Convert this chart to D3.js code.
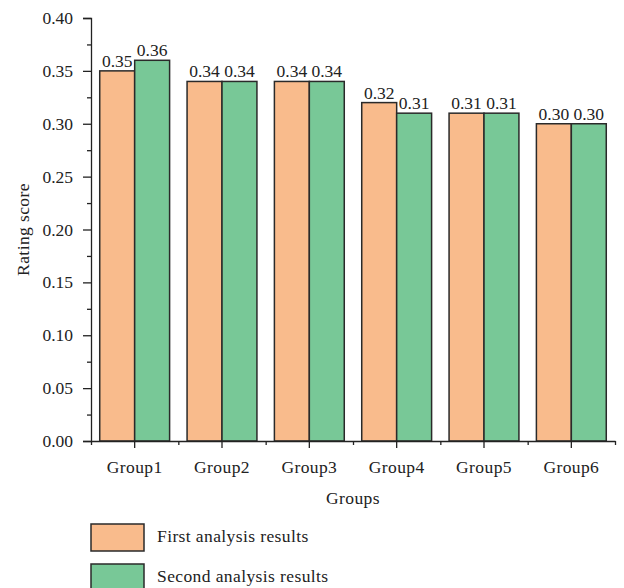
<!DOCTYPE html>
<html>
<head>
<meta charset="utf-8">
<script src="https://cdn.jsdelivr.net/npm/d3@7"></script>
<style>
  html, body { margin: 0; padding: 0; background: #fff; }
  svg text { font-family: "Liberation Serif", "DejaVu Serif", serif; fill: #222; }
</style>
</head>
<body>
<svg id="chart" width="624" height="588"></svg>
<script>
// Rating scores for each group from the two analysis rounds
const groups = ["Group1", "Group2", "Group3", "Group4", "Group5", "Group6"];
const firstResults = [0.35, 0.34, 0.34, 0.32, 0.31, 0.30];
const secondResults = [0.36, 0.34, 0.34, 0.31, 0.31, 0.30];
const seriesNames = ["First analysis results", "Second analysis results"];
const seriesColors = ["#F9BB8C", "#78C897"];
const yTicks = [0, 0.05, 0.10, 0.15, 0.20, 0.25, 0.30, 0.35, 0.40];

const svg = d3.select("#chart");
const plotLeft = 91, plotRight = 615, plotTop = 18, plotBottom = 441;
const fontSize = 17.5, wordSpacing = 0.4;

const x = d3.scaleBand().domain(groups).range([plotLeft, plotRight])
  .paddingInner(0.2).paddingOuter(0.1);
const sub = d3.scaleBand().domain([0, 1]).range([0, x.bandwidth()]);
const y = d3.scaleLinear().domain([0, 0.4]).range([plotBottom, plotTop]);

const rows = groups.map((g, i) => ({ group: g, values: [firstResults[i], secondResults[i]] }));

// bars with value labels
const gBars = svg.append("g");
rows.forEach(r => {
  r.values.forEach((v, k) => {
    gBars.append("rect")
      .attr("x", x(r.group) + sub(k))
      .attr("y", y(v))
      .attr("width", sub.bandwidth())
      .attr("height", y(0) - y(v))
      .attr("fill", seriesColors[k])
      .attr("stroke", "#2a2a2a")
      .attr("stroke-width", 1.5);
    gBars.append("text")
      .attr("x", x(r.group) + sub(k) + sub.bandwidth() / 2)
      .attr("y", y(v) - 4)
      .attr("text-anchor", "middle")
      .attr("font-size", fontSize)
      .text(v.toFixed(2));
  });
});

// y axis with minor ticks
const yAxis = svg.append("g").attr("transform", `translate(${plotLeft},0)`)
  .call(d3.axisLeft(y).tickValues(yTicks).tickFormat(d3.format(".2f")).tickSizeOuter(0).tickSize(8).tickPadding(10));
svg.append("g").attr("transform", `translate(${plotLeft},0)`)
  .call(d3.axisLeft(y).tickValues(d3.range(0.025, 0.4, 0.05)).tickFormat("").tickSizeOuter(0).tickSize(4))
  .call(g => g.select(".domain").remove());

// x axis: major ticks at group centres, minor ticks between groups
const xAxis = svg.append("g").attr("transform", `translate(0,${plotBottom})`)
  .call(d3.axisBottom(x).tickSize(7).tickSizeOuter(0).tickPadding(13));
const xMinor = d3.scaleLinear().domain([0, groups.length]).range([plotLeft, plotRight]);
svg.append("g").attr("transform", `translate(0,${plotBottom})`)
  .call(d3.axisBottom(xMinor).tickValues(d3.range(0, groups.length + 1)).tickFormat("").tickSize(4).tickSizeOuter(0))
  .call(g => g.select(".domain").remove());

svg.selectAll(".domain, .tick line").attr("stroke", "#222").attr("stroke-width", 1.3);
svg.selectAll(".tick text").attr("font-size", fontSize).attr("font-family", "Liberation Serif").attr("fill", "#222");
xAxis.selectAll(".tick text").attr("letter-spacing", wordSpacing);

// axis titles
svg.append("text").attr("x", (plotLeft + plotRight) / 2).attr("y", 504)
  .attr("text-anchor", "middle").attr("font-size", fontSize).attr("letter-spacing", wordSpacing).text("Groups");
svg.append("text").attr("transform", `translate(29,${(plotTop + plotBottom) / 2}) rotate(-90)`)
  .attr("text-anchor", "middle").attr("font-size", fontSize).attr("letter-spacing", wordSpacing).text("Rating score");

// legend
const legend = svg.append("g");
seriesNames.forEach((name, k) => {
  const ly = 524 + k * 40;
  legend.append("rect").attr("x", 91).attr("y", ly).attr("width", 53).attr("height", 27)
    .attr("fill", seriesColors[k]).attr("stroke", "#2a2a2a").attr("stroke-width", 1.5);
  legend.append("text").attr("x", 157).attr("y", ly + 18).attr("font-size", fontSize)
    .attr("letter-spacing", wordSpacing).text(name);
});
</script>
</body>
</html>
